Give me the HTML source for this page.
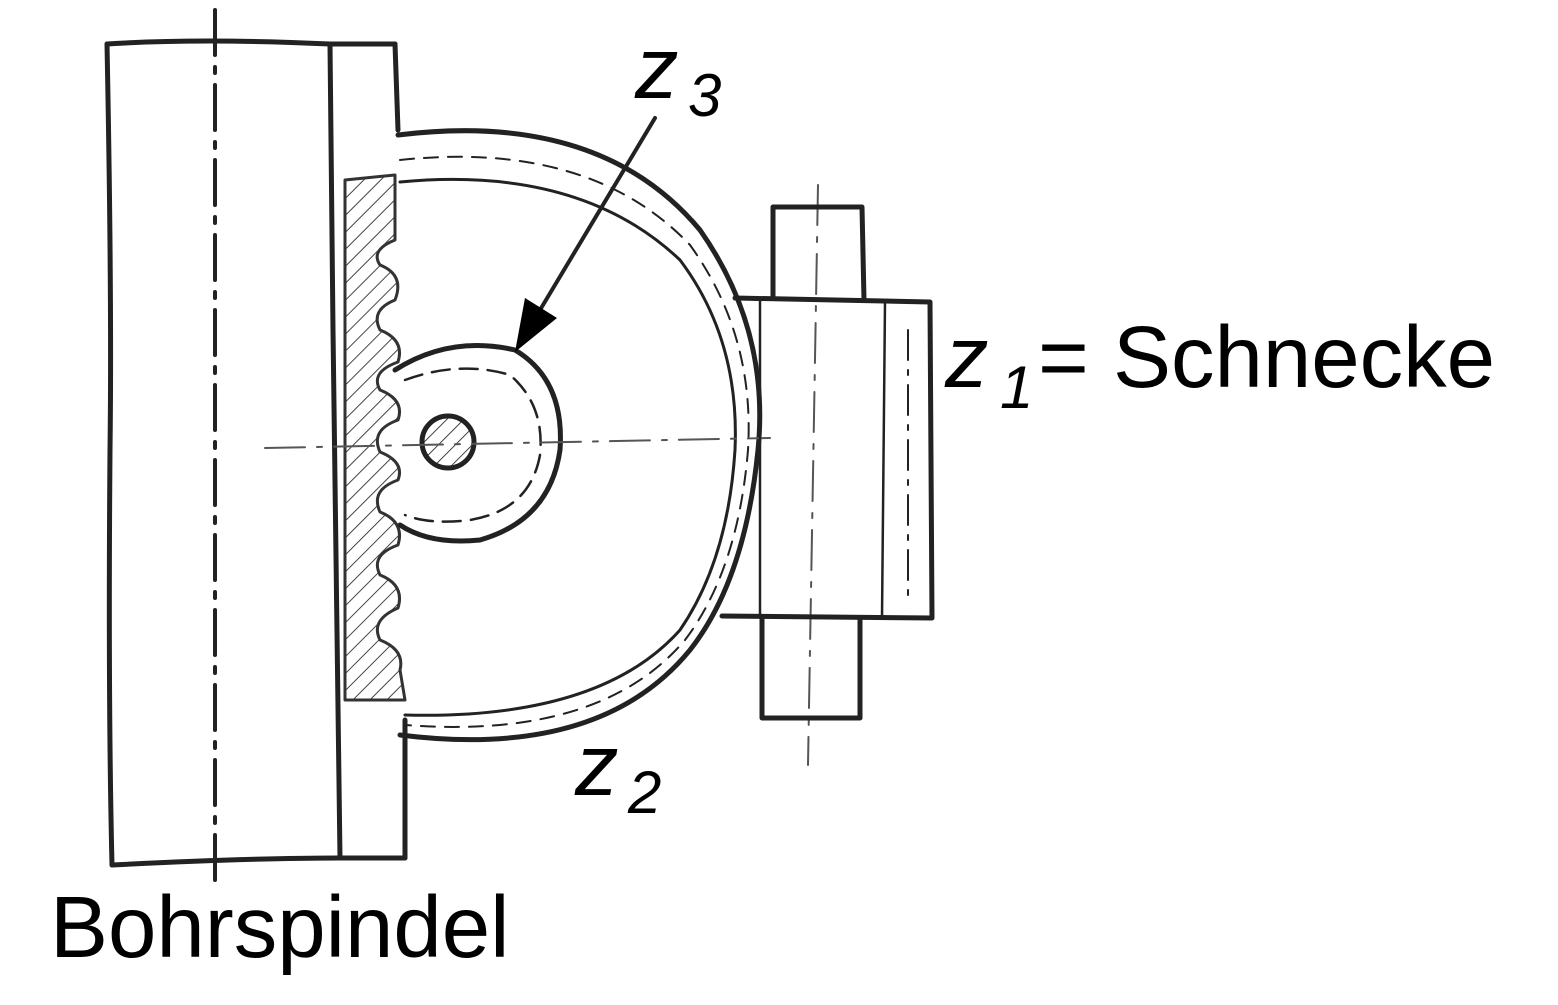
<!DOCTYPE html>
<html><head><meta charset="utf-8"><style>
html,body{margin:0;padding:0;background:#fff}
svg{display:block}
text{font-family:"Liberation Sans",sans-serif;fill:#000}
</style></head><body>
<svg width="1558" height="1005" viewBox="0 0 1558 1005" xmlns="http://www.w3.org/2000/svg">
<defs>
<pattern id="h" width="12" height="12" patternUnits="userSpaceOnUse" patternTransform="rotate(45)">
<line x1="0" y1="0" x2="0" y2="12" stroke="#444" stroke-width="2"/>
</pattern>
</defs>
<g fill="none" stroke="#222" stroke-width="5" stroke-linecap="round" stroke-linejoin="round">
<path d="M107 44 Q112 300 110 450 Q108 700 112 865"/>
<path d="M107 44 Q200 38 330 44 L395 44"/>
<path d="M112 865 Q250 858 340 858 L405 858"/>
<path d="M330 44 L333 330 L340 858"/>
<path d="M395 44 L398 130"/>
<path d="M405 720 L405 858"/>
<path d="M345 180 L395 175 L395 240 Q370 250 380 265 Q405 275 395 300 Q370 310 380 330 Q405 340 398 362 Q370 372 380 390 Q405 400 398 420 Q370 430 380 452 Q405 462 398 480 Q370 490 380 512 Q405 522 398 545 Q370 555 380 575 Q405 585 398 608 Q370 620 380 640 Q405 650 400 670 L405 700 L345 700 Z" fill="url(#h)" stroke="#333" stroke-width="3"/>
<path d="M398 135 Q600 110 700 230 Q770 330 758 450 Q745 580 690 650 Q600 760 400 735" stroke-width="5"/>
<path d="M400 182 Q580 165 680 260 Q740 340 735 450 Q728 560 680 630 Q600 720 405 715" stroke-width="3"/>
<path d="M400 160 Q590 140 690 245 Q755 335 748 450 Q738 570 685 640 Q600 740 405 725" stroke-width="2" stroke-dasharray="14 10"/>
<path d="M395 370 Q450 335 515 350 Q565 380 560 450 Q550 520 480 540 Q430 545 400 525" stroke-width="5"/>
<path d="M405 380 Q460 360 510 375 Q545 405 540 455 Q530 510 470 520 Q430 525 405 515" stroke-width="2.5" stroke-dasharray="18 10"/>
<circle cx="448" cy="442" r="26" fill="url(#h)" stroke-width="5"/>
<line x1="215" y1="10" x2="215" y2="880" stroke-width="4" stroke-dasharray="45 12 6 12"/>
<line x1="265" y1="448" x2="770" y2="438" stroke-width="2" stroke-dasharray="40 12 5 12" stroke="#555"/>
<line x1="818" y1="185" x2="808" y2="765" stroke-width="2" stroke-dasharray="40 12 5 12" stroke="#555"/>
<path d="M735 298 L930 302 L932 618 L722 616" stroke-width="5"/>
<path d="M773 298 L773 207 L862 207 L864 300" stroke-width="5"/>
<path d="M762 618 L762 718 L860 718 L860 618" stroke-width="5"/>
<line x1="760" y1="300" x2="760" y2="615" stroke-width="2.5"/>
<line x1="885" y1="302" x2="882" y2="618" stroke-width="2.5"/>
<line x1="908" y1="330" x2="908" y2="600" stroke-width="2" stroke-dasharray="30 10 5 10"/>
<line x1="655" y1="118" x2="540" y2="310" stroke-width="4"/>
</g>
<polygon points="515,352 525,298 557,318" fill="#000"/>
<text x="635" y="98" font-size="87" font-style="italic">z</text>
<text x="688" y="116" font-size="60" font-style="italic">3</text>
<text x="945" y="387" font-size="87" font-style="italic">z</text>
<text x="1000" y="408" font-size="60" font-style="italic">1</text>
<text x="1038" y="387" font-size="87">= Schnecke</text>
<text x="575" y="795" font-size="87" font-style="italic">z</text>
<text x="628" y="813" font-size="60" font-style="italic">2</text>
<text x="50" y="957" font-size="87">Bohrspindel</text>
</svg>
</body></html>
